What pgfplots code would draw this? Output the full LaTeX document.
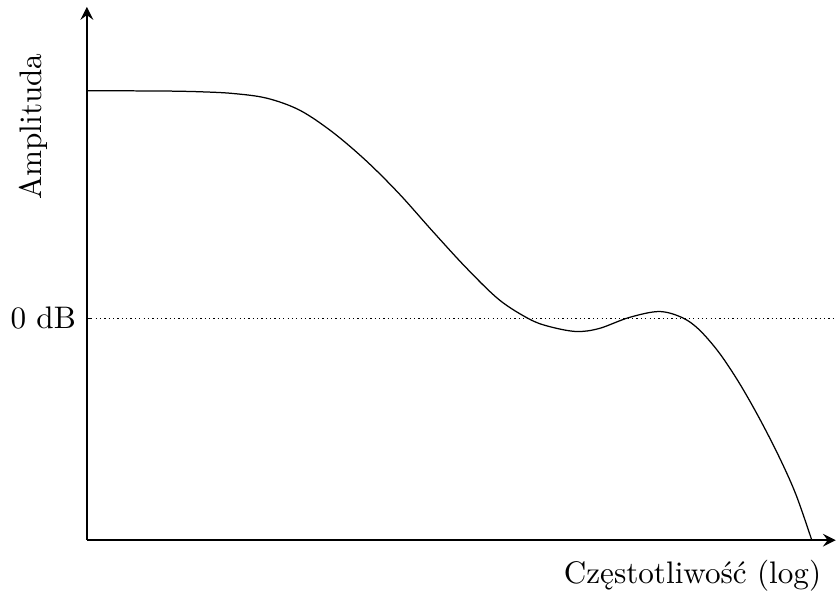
\documentclass[border=0pt]{standalone}
\usepackage{fontspec}
\usepackage{pgfplots}
\pgfplotsset{compat=1.18}
\begin{document}
\begin{tikzpicture}
\begin{axis}[
  x=0.3205pt, y=0.3205pt,
  xmin=0, xmax=750, ymin=0, ymax=534,
  axis lines=left,
  axis line style={thick},
  xtick=\empty,
  ytick={222}, yticklabels={0 dB},
  tick align=inside,
  major tick length=1.6pt,
  tick style={thin, black},
  clip=false,
]
\path (axis cs:-87,541) rectangle (axis cs:745,-55);
\addplot[densely dotted, thin] coordinates {(0,222) (750,222)};
\addplot[smooth, tension=0.55, thin, black] coordinates {
(0,450) (40,450) (80,449.8) (113,449.1) (146,447.4) (180,442.7) (213,430.7)
(246,408.7) (280,379.7) (313,346.7) (346,309.7) (380,272.7) (413,240.7)
(443,221.5) (463,214) (490,209) (513,212) (543,223) (573,229) (596,223)
(613,211) (633,188) (653,158) (673,123) (693,84) (710,46) (726,0)};
\node[rotate=90, anchor=base] at (axis cs:-45,414) {Amplituda};
\node[anchor=base east, inner sep=0pt] at (axis cs:736,-43) {Częstotliwość (log)};
\end{axis}
\end{tikzpicture}
\end{document}
